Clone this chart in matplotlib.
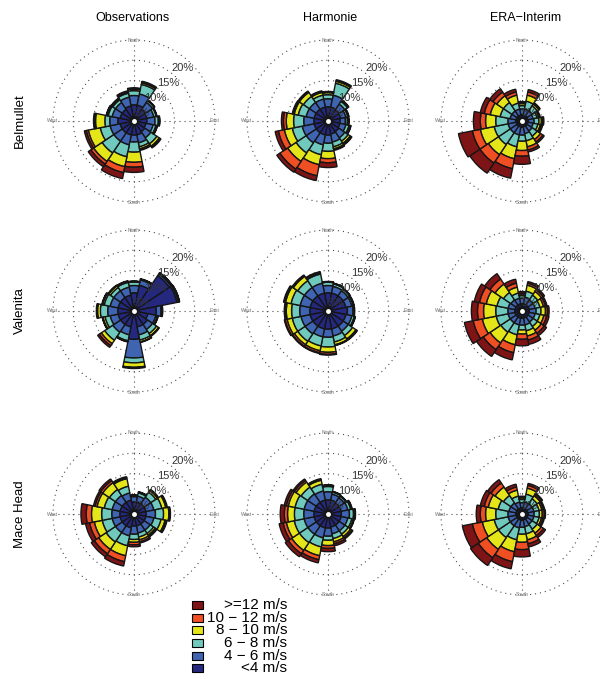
import numpy as np
import matplotlib.pyplot as plt
from matplotlib.patches import Rectangle

plt.rcParams['font.family'] = ['Liberation Sans', 'DejaVu Sans']

W, H = 600, 679

directions = ['N', 'NNE', 'NE', 'ENE', 'E', 'ESE', 'SE', 'SSE',
              'S', 'SSW', 'SW', 'WSW', 'W', 'WNW', 'NW', 'NNW']
speed_labels = ['<4 m/s', '4 \u2212 6 m/s', '6 \u2212 8 m/s',
                '8 \u2212 10 m/s', '10 \u2212 12 m/s', '>=12 m/s']
speed_colors = ['#24287f', '#3f64b1', '#6fc9bd', '#e5e619', '#f04e23', '#7f1416']

columns = ['Observations', 'Harmonie', 'ERA\u2212Interim']
stations = ['Belmullet', 'Valenita', 'Mace Head']

# cumulative frequency (%) per direction, up to the top of each speed class
belmullet_obs = [
    [4.0, 6.3, 7.5, 7.9, 8.0, 8.2], [4.0, 6.8, 9.2, 9.6, 9.8, 10.0],
    [3.5, 5.5, 6.0, 6.1, 6.1, 6.2], [3.2, 5.0, 5.6, 5.7, 5.7, 5.8],
    [3.2, 5.2, 6.0, 6.2, 6.3, 6.4], [3.0, 4.8, 5.5, 5.7, 5.8, 5.9],
    [3.2, 5.0, 6.8, 7.5, 7.7, 8.0], [3.5, 5.5, 6.5, 7.0, 7.2, 7.4],
    [3.5, 5.2, 7.7, 10.2, 11.4, 12.7], [3.5, 6.0, 9.0, 11.5, 13.0, 14.5],
    [3.5, 6.0, 9.5, 12.0, 12.8, 13.6], [3.5, 6.0, 8.5, 11.5, 12.0, 12.5],
    [4.0, 6.0, 7.2, 9.5, 9.7, 10.0], [3.5, 5.5, 6.5, 6.8, 6.9, 7.0],
    [3.5, 5.5, 6.3, 6.6, 6.7, 6.8], [3.8, 6.0, 7.0, 7.3, 7.4, 7.6],
]
belmullet_harmonie = [
    [3.5, 5.5, 6.5, 7.0, 7.1, 7.3], [3.5, 6.5, 9.5, 10.0, 10.1, 10.4],
    [3.3, 5.0, 5.8, 6.0, 6.1, 6.2], [3.2, 4.5, 5.0, 5.1, 5.2, 5.3],
    [3.0, 4.3, 4.8, 5.0, 5.1, 5.2], [3.0, 4.5, 5.3, 5.6, 5.7, 5.8],
    [3.2, 5.0, 6.0, 6.6, 6.9, 7.1], [3.3, 5.3, 6.5, 7.0, 7.2, 7.4],
    [3.5, 5.5, 7.5, 9.3, 10.3, 11.5], [3.5, 6.0, 8.5, 11.0, 13.8, 15.0],
    [3.5, 6.5, 9.5, 12.0, 14.3, 15.2], [3.5, 6.5, 9.0, 11.0, 12.5, 13.3],
    [3.5, 6.0, 8.5, 10.3, 11.0, 11.5], [3.5, 5.5, 7.5, 8.5, 8.8, 9.0],
    [3.5, 5.5, 7.3, 8.5, 8.7, 8.9], [3.5, 5.5, 6.5, 7.2, 7.4, 7.6],
]
belmullet_era = [
    [1.5, 3.0, 3.8, 4.3, 4.6, 4.8], [1.5, 3.0, 5.0, 6.5, 7.3, 7.9],
    [1.5, 3.0, 4.5, 5.0, 5.2, 5.4], [1.5, 2.8, 3.8, 4.2, 4.4, 4.6],
    [1.5, 3.0, 4.2, 4.8, 5.1, 5.4], [1.5, 2.8, 4.0, 4.6, 4.9, 5.2],
    [1.5, 3.0, 4.5, 5.5, 6.2, 6.6], [1.5, 3.2, 5.0, 6.5, 7.3, 7.8],
    [1.5, 3.5, 5.0, 7.3, 8.7, 10.7], [1.5, 3.5, 6.5, 9.5, 12.0, 14.4],
    [1.5, 3.5, 7.0, 10.0, 12.5, 15.5], [1.5, 3.5, 7.0, 10.5, 12.5, 16.0],
    [1.5, 3.5, 6.5, 9.0, 10.3, 12.0], [1.5, 3.0, 5.5, 8.0, 9.5, 10.5],
    [1.5, 3.0, 5.5, 7.5, 8.6, 9.6], [1.5, 3.0, 4.5, 6.5, 7.3, 8.0],
]
valentia_obs = [
    [4.5, 6.3, 7.2, 7.3, 7.3, 7.4], [6.5, 7.8, 8.0, 8.0, 8.0, 8.1],
    [10.5, 11.0, 11.3, 11.3, 11.3, 11.4], [10.8, 11.2, 11.4, 11.4, 11.4, 11.5],
    [5.5, 6.7, 6.9, 7.0, 7.0, 7.1], [3.5, 5.5, 5.9, 6.0, 6.0, 6.1],
    [4.0, 5.5, 6.7, 7.3, 7.4, 7.5], [4.0, 6.0, 7.3, 7.8, 7.8, 7.9],
    [7.0, 11.6, 12.8, 13.9, 14.0, 14.2], [4.0, 6.0, 7.5, 7.7, 7.7, 7.8],
    [4.0, 6.3, 8.7, 9.7, 10.3, 10.8], [4.0, 6.0, 7.3, 7.8, 7.9, 8.0],
    [4.0, 6.5, 8.3, 9.0, 9.1, 9.3], [4.0, 6.0, 7.5, 7.9, 8.0, 8.1],
    [4.0, 6.0, 7.0, 7.5, 7.6, 7.7], [4.0, 6.0, 7.2, 7.4, 7.5, 7.6],
]
valentia_harmonie = [
    [4.5, 6.3, 7.1, 7.2, 7.2, 7.3], [4.5, 6.2, 6.8, 6.9, 6.9, 7.0],
    [4.5, 6.0, 6.5, 6.6, 6.6, 6.7], [4.5, 6.0, 6.4, 6.5, 6.5, 6.6],
    [4.8, 6.2, 6.5, 6.5, 6.5, 6.6], [4.5, 6.0, 6.6, 6.8, 6.8, 6.9],
    [4.5, 6.0, 7.3, 8.3, 8.6, 8.7], [4.5, 6.3, 7.8, 8.5, 8.6, 8.7],
    [4.5, 6.5, 8.9, 10.2, 10.7, 10.9], [4.5, 6.5, 8.8, 10.0, 10.5, 10.7],
    [4.5, 6.8, 9.0, 10.0, 10.5, 10.7], [4.5, 6.8, 9.0, 10.3, 10.8, 11.0],
    [4.5, 7.0, 9.0, 10.3, 10.6, 10.8], [4.5, 7.0, 9.3, 10.7, 11.0, 11.2],
    [4.5, 7.0, 9.0, 10.3, 10.5, 10.7], [4.5, 7.0, 9.3, 9.6, 9.7, 9.9],
]
valentia_era = [
    [1.8, 3.2, 3.8, 4.0, 4.4, 4.8], [1.8, 3.5, 5.0, 6.5, 7.0, 7.4],
    [1.8, 3.3, 4.7, 5.8, 6.3, 6.7], [1.8, 3.3, 4.5, 5.4, 5.9, 6.3],
    [1.8, 3.5, 4.7, 5.8, 6.3, 6.7], [1.8, 3.3, 4.5, 5.5, 6.2, 6.8],
    [1.8, 3.3, 4.6, 5.7, 6.6, 7.3], [1.8, 3.5, 5.0, 6.3, 7.3, 8.4],
    [1.8, 3.5, 4.7, 5.7, 7.0, 8.6], [1.8, 3.5, 6.0, 8.5, 10.5, 12.3],
    [1.8, 3.5, 6.3, 9.5, 11.5, 13.5], [1.8, 3.5, 6.5, 10.0, 12.3, 14.5],
    [1.8, 3.5, 6.5, 9.5, 11.0, 12.5], [1.8, 3.5, 6.3, 9.0, 10.7, 12.0],
    [1.8, 3.3, 5.5, 8.0, 9.5, 11.1], [1.8, 3.2, 4.5, 6.0, 7.0, 8.0],
]
macehead_obs = [
    [3.0, 4.3, 4.6, 4.6, 4.6, 4.7], [3.0, 4.5, 5.3, 5.5, 5.5, 5.6],
    [3.0, 5.0, 6.5, 7.0, 7.1, 7.3], [3.0, 5.0, 7.0, 8.0, 8.2, 8.4],
    [3.0, 5.3, 7.3, 8.6, 8.8, 9.0], [3.0, 5.0, 6.8, 7.8, 8.1, 8.3],
    [3.0, 4.8, 5.8, 6.3, 6.6, 6.8], [3.0, 4.8, 5.8, 6.5, 7.0, 7.3],
    [3.0, 5.0, 6.3, 7.0, 7.6, 8.1], [3.5, 5.5, 8.0, 10.5, 12.0, 13.1],
    [3.5, 5.5, 8.3, 10.5, 11.8, 12.7], [3.5, 5.5, 8.0, 10.0, 11.2, 12.2],
    [3.5, 5.5, 8.0, 10.5, 11.8, 13.1], [3.5, 5.5, 7.5, 9.3, 9.8, 10.2],
    [3.5, 5.5, 7.3, 9.3, 9.9, 10.4], [3.5, 5.3, 7.0, 8.9, 9.1, 9.4],
]
macehead_harmonie = [
    [3.5, 5.5, 6.8, 7.0, 7.1, 7.2], [3.5, 5.0, 5.5, 5.6, 5.6, 5.7],
    [3.3, 4.8, 5.3, 5.4, 5.4, 5.5], [3.3, 5.0, 5.7, 5.9, 6.0, 6.1],
    [3.3, 5.3, 6.3, 6.6, 6.7, 6.8], [3.3, 5.0, 6.0, 6.4, 6.5, 6.6],
    [3.3, 5.0, 6.0, 6.7, 7.1, 7.4], [3.3, 5.0, 6.2, 7.0, 7.5, 8.0],
    [3.5, 5.5, 6.5, 7.8, 8.5, 9.3], [3.5, 6.0, 8.3, 10.5, 11.5, 12.3],
    [3.5, 6.0, 8.5, 10.8, 11.8, 12.7], [3.5, 6.0, 8.5, 10.5, 11.3, 12.3],
    [3.5, 6.0, 8.3, 10.0, 10.8, 11.8], [3.5, 6.0, 8.3, 10.0, 10.5, 11.0],
    [3.5, 6.0, 8.0, 9.5, 10.0, 10.4], [3.5, 5.8, 7.5, 8.5, 8.7, 8.9],
]
macehead_era = [
    [1.5, 2.8, 3.6, 4.0, 4.2, 4.4], [1.5, 3.0, 5.0, 6.5, 7.2, 7.7],
    [1.5, 3.0, 4.5, 5.4, 5.8, 6.1], [1.5, 3.0, 4.3, 5.0, 5.4, 5.7],
    [1.5, 3.0, 4.3, 5.0, 5.5, 5.8], [1.5, 3.0, 4.3, 4.9, 5.3, 5.6],
    [1.5, 3.0, 4.5, 5.7, 6.4, 7.0], [1.5, 3.2, 5.0, 6.5, 7.5, 8.3],
    [1.5, 3.3, 5.0, 7.0, 8.8, 10.6], [1.5, 3.5, 6.5, 9.5, 12.0, 13.8],
    [1.5, 3.5, 7.0, 10.5, 13.0, 15.3], [1.5, 3.5, 7.0, 10.0, 12.5, 15.0],
    [1.5, 3.5, 6.5, 9.0, 10.3, 11.3], [1.5, 3.3, 6.0, 8.5, 9.5, 10.5],
    [1.5, 3.3, 5.5, 8.0, 9.2, 10.2], [1.5, 3.0, 4.5, 6.0, 6.8, 7.5],
]

roses = [
    [belmullet_obs, belmullet_harmonie, belmullet_era],
    [valentia_obs, valentia_harmonie, valentia_era],
    [macehead_obs, macehead_harmonie, macehead_era],
]

col_x = [134, 328, 522]
row_y = [121, 311, 514]
rmax = 20.0
r_pix = 81.0
half = r_pix * 21.0 / rmax


def draw_rose(ax, cum):
    cum = np.asarray(cum, dtype=float)
    theta = np.deg2rad(np.arange(len(directions)) * 22.5)
    width = 2 * np.pi / len(directions)

    ring = np.linspace(0, 2 * np.pi, 240)
    for r in (5, 10, 15, 20):
        ax.plot(ring, np.full_like(ring, r), color='0.3', lw=0.8,
                ls=(0, (1, 3.5)), zorder=1)
    for a in (0, 90, 180, 270):
        ax.plot([np.deg2rad(a)] * 2, [0, rmax], color='0.3', lw=0.8,
                ls=(0, (1, 3.5)), zorder=1)

    lower = np.zeros(len(directions))
    for k in range(len(speed_labels)):
        ax.bar(theta, cum[:, k] - lower, width=width, bottom=lower,
               color=speed_colors[k], edgecolor='#151515', linewidth=1.0,
               zorder=2)
        lower = cum[:, k]

    ax.plot([0], [0], 'o', color='white', ms=3.5, mew=0, zorder=4)

    for v in (5, 10, 15, 20):
        ax.text(np.deg2rad(42), v - 2.25, f'{v}%', ha='center', va='center',
                fontsize=8, color='0.2', zorder=5)
    for a, name in zip((0, 90, 180, 270), ('North', 'East', 'South', 'West')):
        ax.text(np.deg2rad(a), rmax, name, ha='center', va='center',
                fontsize=3.5, color='0.45', zorder=5)

    ax.set_theta_zero_location('N')
    ax.set_theta_direction(-1)
    ax.set_ylim(0, 21)
    ax.axis('off')


fig = plt.figure(figsize=(W / 100, H / 100), dpi=100)

for i, row in enumerate(roses):
    for j, cum in enumerate(row):
        cx, cy = col_x[j], row_y[i]
        ax = fig.add_axes([(cx - half) / W, 1 - (cy + half) / H,
                           2 * half / W, 2 * half / H], projection='polar')
        draw_rose(ax, cum)

title_x = [133, 330, 526]
for x, name in zip(title_x, columns):
    fig.text(x / W, 1 - 18 / H, name, ha='center', va='center', fontsize=9)

for y, name in zip(row_y, stations):
    fig.text(20 / W, 1 - y / H, name, ha='center', va='center',
             rotation=90, fontsize=9.5)

# legend, strongest winds on top
legend_y = [605, 617.5, 630, 642.7, 655.5, 668.3]
for y, lab, col in zip(legend_y, speed_labels[::-1], speed_colors[::-1]):
    fig.patches.append(Rectangle((192 / W, 1 - (y + 4) / H), 11 / W, 8 / H,
                                 transform=fig.transFigure, facecolor=col,
                                 edgecolor='black', linewidth=0.8))
    fig.text(287 / W, 1 - y / H, lab, ha='right', va='center', fontsize=11)

fig.savefig('out.png', dpi=100)
